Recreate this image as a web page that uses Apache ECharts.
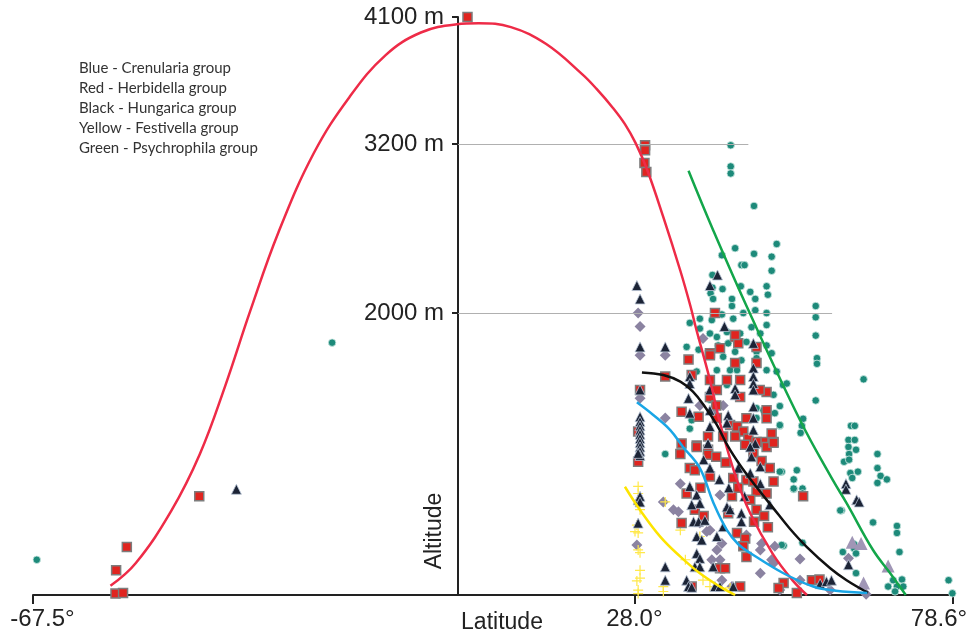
<!DOCTYPE html>
<html>
<head>
<meta charset="utf-8">
<title>Altitude vs latitude</title>
<script src="https://cdn.jsdelivr.net/npm/echarts@6.0.0/dist/echarts.min.js"></script>
<style>
  html, body { margin: 0; padding: 0; background: #fff; }
  #chart1 { width: 971px; height: 635px; }
</style>
</head>
<body>
<div id="chart1"></div>
<script>
// ticks
const latTicks = [-67.5, 28.0, 78.6];
const altTicks = [2000, 3200, 4100];
const guideLines = [[3200, 46.1], [2000, 59.4]]; // [altitude, latitude where the grey line stops]

const groupNames = [
  'Blue - Crenularia group',
  'Red - Herbidella group',
  'Black - Hungarica group',
  'Yellow - Festivella group',
  'Green - Psychrophila group'
];

// fitted curves [latitude, altitude]
const redCurve = [[-55.2,65],[-51.2,225],[-45.5,600],[-41.0,1000],[-37.0,1480],[-33.0,2015],[-28.5,2575],[-22.9,3135],[-17.2,3535],[-11.5,3830],[-5.9,3990],[-0.2,4048],[3.3,4055],[8.4,4028],[14.0,3908],[19.7,3695],[22.0,3590],[24.6,3455],[26.5,3340],[28.2,3205],[30.0,3020],[32.6,2680],[35.3,2300],[36.9,2050],[37.8,1890],[40.0,1525],[41.6,1220],[44.1,840],[46.4,580],[50.0,290],[53.2,100],[55.4,0]];
const greenCurve = [[36.6,3009],[40.5,2589],[46.1,2021],[54.3,1241],[59.5,816],[61.7,652],[65.9,319],[68.6,156],[71.1,0]];
const blackCurve = [[29.2,1579],[32.6,1560],[35.3,1513],[37.3,1442],[39.2,1335],[41.1,1206],[42.9,1052],[44.8,920],[46.8,800],[50.0,620],[52.7,470],[55.4,340],[59.1,190],[61.7,105],[65.1,16]];
const blueCurve = [[28.4,1367],[31.0,1277],[33.7,1170],[35.7,1052],[38.4,900],[40.5,660],[42.7,460],[44.5,360],[46.4,298],[51.6,156],[56.4,60],[60.0,30],[65.0,14]];
const yellowCurve = [[26.5,768],[28.9,603],[32.1,414],[35.3,272],[38.4,154],[41.6,59],[44.0,0]];

// observations [latitude, altitude]
const psychrophila = [[-66.9,250],[-20.0,1790],
  [43.3,3190],[43.3,3040],[43.3,2990],[47.0,2760],[50.6,2490],[44.0,2460],[41.9,2410],[47.0,2420],[49.8,2400],[45.0,2340],[45.5,2340],[49.8,2300],[40.4,2270],[44.9,2190],[49.0,2190],[40.4,2180],[42.0,2170],[40.1,2140],[46.4,2150],[49.2,2130],[40.5,2100],[43.5,2100],[47.2,2100],[43.5,2050],[56.8,2050],
  [56.8,1970],[56.8,1840],[57.0,1680],[57.0,1640],[64.4,1530],[56.8,1380],[51.1,1340],[51.6,1490],[54.8,1250],[54.6,1200],[54.4,1150],[51.1,1200],[62.4,1200],[63.0,1200],[62.0,1100],[63.0,1100],[62.0,1050],[63.2,1030],
  [62.1,1000],[66.6,1000],[61.3,945],[62.1,960],[66.6,900],[63.5,875],[62.3,865],[67.1,845],[68.1,820],[66.6,795],[62.6,830],[53.8,885],[53.3,820],[53.3,750],[51.4,875],[60.9,600],[65.9,515],[69.7,490],[69.7,440],[54.7,370],[51.7,350],[62.9,360],[62.9,330],[61.1,305],[63.2,295],[70.1,305],[63.2,155],[69.1,105],[70.5,110],[68.3,60],[69.7,60],[70.7,60],[69.4,25],[77.9,105],[78.5,12],
  [36.8,1930],[38.4,1960],[40.3,1950],[41.9,1990],[43.7,1960],[45.3,2000],[47.2,2020],[49.0,2000],[49.0,1915],[40.0,1855],[38.4,1890],[41.1,1830],[42.7,1865],[44.8,1855],[46.6,1900],[48.0,1855],[36.3,1760],[38.2,1740],[41.3,1770],[42.9,1785],[44.0,1725],[45.8,1795],[47.4,1725],[49.0,1770],[49.8,1715],[47.4,1680],[45.0,1665],[42.1,1690],[43.2,1595],[44.3,1595],[41.1,1595],[37.9,1585],[49.0,1595],[50.6,1585],[52.2,1500],[50.1,1420],[47.4,1325],[48.5,1310],[50.3,1290],[47.4,1255],[51.1,1205],[40.0,1385],[42.7,1490],[36.8,1180],[37.1,1240],
  [32.9,1000],[51.4,355],[53.3,755],[54.7,755],[54.7,720],[60.7,600],[51.1,875]];

const herbidella = [[-52.6,340],[-54.3,175],[-54.4,10],[-53.2,15],[-41.1,700],[1.5,4100],[29.7,3190],[29.7,3155],[29.6,3065],[29.9,3000],
  [40.8,2000],[44.0,1830],[36.6,1670],[40.0,1715],[41.6,1750],[44.0,1645],[47.4,1645],[44.5,1785],[47.4,1760],[32.9,1550],[37.1,1560],[40.0,1525],[42.7,1525],[44.8,1525],[49.0,1440],[44.8,1405],[40.0,1405],[35.5,1300],[38.2,1265],[41.1,1255],[43.2,1205],[44.3,1195],[45.3,1160],[49.0,1310],[49.8,1145],[50.1,1085],[48.5,1085],[46.1,1110],[44.0,1125],[35.5,1075],[37.9,1060],[28.6,1160],[39.7,1125],[42.1,1125],[47.9,1455],[41.1,1455],[28.9,1455],[44.0,1845],[41.0,1345],[45.8,1253],[49.0,1253],[40.0,1700],
  [28.6,945],[35.3,1000],[37.9,1050],[39.7,1030],[39.7,995],[45.6,1065],[46.9,1005],[49.0,1050],[50.1,1080],[47.4,1085],[36.8,900],[37.6,885],[40.0,840],[43.7,830],[45.8,815],[46.9,805],[50.1,805],[47.4,735],[49.0,720],[36.3,720],[37.6,605],[35.5,510],[42.9,580],[46.4,675],[47.4,605],[44.3,440],[45.6,400],[45.3,345],[45.8,270],[41.6,190],[42.4,190],[37.1,60],[44.8,60],[51.7,85],[50.9,50],
  [48.6,560],[49.2,480],[47.0,520],[43.5,700],[44.5,760],[41.0,980],[42.5,940],[48.2,950],[49.5,900],[38.5,760],[39.0,560],
  [54.8,700],[56.2,105],[57.4,110],[53.8,15]];

const hungarica = [[-35.2,750],
  [28.4,2195],[28.9,2100],[41.2,2270],[40.0,2195],
  [28.9,1760],[32.9,1760],[42.3,1905],[46.9,1785],[46.9,1610],[46.9,1550],[46.9,1500],[46.9,1455],[44.0,1465],[44.0,1420],[36.8,1550],[36.8,1500],[36.6,1395],[36.8,1290],[40.0,1455],[40.0,1310],[40.0,1195],[39.7,1075],[42.9,1275],[42.7,1220],[46.9,1335],[46.9,1255],[46.9,1170],[47.2,1075],[28.9,1455],
  [28.9,1265],[28.9,1230],[28.9,1200],[28.9,1170],[28.9,1140],[28.9,1110],[28.9,1080],[28.9,1050],[28.9,1020],[28.9,990],[28.6,1005],[28.6,675],[28.6,510],[28.9,700],[28.9,660],
  [36.8,770],[37.9,710],[38.4,650],[37.1,640],[37.4,520],[38.2,520],[39.2,530],[37.9,415],[38.7,390],[37.9,295],[38.4,260],[37.6,200],[38.4,200],[36.3,105],[36.6,60],[37.1,55],[32.9,200],[32.9,105],[42.7,625],[43.2,605],[42.1,485],[41.1,415],[40.5,200],[40.8,60],[41.6,60],[43.7,60],[46.4,1050],[46.6,980],[48.0,910],[46.4,865],[48.0,790],[45.0,580],[45.0,520],
  [44.5,900],[43.0,760],[45.5,700],[49.5,640],[40.0,900],[41.5,820],[39.0,960],
  [61.6,790],[61.6,750],[63.3,675],[63.7,660],[62.0,215],[57.5,80],[58.5,95],[59.3,105]];

const crenularia = [[28.6,2000],[28.9,1905],[28.9,1700],[32.9,1700],[28.9,1395],[32.9,1255],[38.9,1820],[38.4,1345],[42.1,1345],[40.5,1300],
  [35.3,790],[41.6,710],[35.0,590],[38.4,510],[40.0,460],[41.9,365],[40.3,250],[28.4,355],[32.6,660],[45.8,425],[48.0,155],[49.8,250],[50.3,345],[48.2,365],[43.5,60],[41.9,105],[34.2,605],
  [54.3,255],[62.0,260],[64.8,5],[39.5,450],[41.1,320],[41.6,250],[48.0,320],[50.1,225],[51.1,35],[54.3,105],[59.1,35]];

const otherGroup = [[64.0,365],[64.4,85],[68.3,205],[62.6,375]];

const festivella = [[28.6,770],[28.6,720],[28.9,605],[28.1,450],[28.6,320],[28.9,175],[28.9,120],[28.6,35],[32.9,660],[35.3,460],[36.1,250],[32.6,60],[32.6,25],[40.0,60],[43.2,50],[38.9,105],[38.4,415],[28.4,495],[28.6,440],[28.9,300],[28.4,100],[28.6,10]];

const plusPath = 'path://M4.4,0H5.6V4.4H10V5.6H5.6V10H4.4V5.6H0V4.4H4.4Z';

const fitLine = (data, color) => ({
  type: 'line',
  data: data,
  smooth: 0.4,
  showSymbol: false,
  silent: true,
  z: 5,
  lineStyle: { color: color, width: 2.5 }
});

const getOptionChart1 = () => {
  return {
    animation: false,
    backgroundColor: '#fff',
    title: {
      text: groupNames.join('\n'),
      left: 79,
      top: 58,
      padding: 0,
      textStyle: {
        fontFamily: 'Lato',
        fontSize: 15,
        fontWeight: 'normal',
        lineHeight: 20,
        color: '#333'
      }
    },
    grid: { left: 33, right: 18, top: 17, bottom: 40, containLabel: false, outerBoundsMode: 'none' },
    xAxis: {
      type: 'value',
      min: -67.5,
      max: 78.6,
      name: 'Latitude',
      nameLocation: 'middle',
      nameGap: 28,
      nameMoveOverlap: false,
      nameTextStyle: {
        fontFamily: 'Liberation Sans',
        fontSize: 23,
        color: '#222',
        padding: [0, 0, 0, 18],
        verticalAlign: 'middle'
      },
      axisLine: { onZero: false, lineStyle: { color: '#222', width: 2 } },
      axisTick: { customValues: latTicks, length: 9, lineStyle: { color: '#222', width: 2 } },
      axisLabel: {
        customValues: latTicks,
        margin: 12,
        fontFamily: 'Liberation Sans',
        fontSize: 24,
        color: '#222',
        formatter: (v) => {
          const t = v.toFixed(1) + '°';
          if (v === latTicks[0]) return '{lo|' + t + '}';
          if (v === latTicks[latTicks.length - 1]) return '{hi|' + t + '}';
          return t;
        },
        rich: {
          lo: { fontFamily: 'Liberation Sans', fontSize: 24, color: '#222', padding: [0, 0, 0, 19] },
          hi: { fontFamily: 'Liberation Sans', fontSize: 24, color: '#222', padding: [0, 28, 0, 0] }
        }
      },
      splitLine: { show: false }
    },
    yAxis: {
      type: 'value',
      min: 0,
      max: 4100,
      offset: -425,
      axisLine: { onZero: false, lineStyle: { color: '#222', width: 2 } },
      axisTick: { customValues: altTicks, length: 6, lineStyle: { color: '#222', width: 2 } },
      axisLabel: {
        customValues: altTicks,
        margin: 14,
        fontFamily: 'Liberation Sans',
        fontSize: 24,
        color: '#222',
        formatter: (v) => v + ' m'
      },
      splitLine: { show: false }
    },
    graphic: [{
      type: 'text',
      x: 435,
      y: 531,
      rotation: Math.PI / 2,
      style: {
        text: 'Altitude',
        font: '23px "Liberation Sans"',
        fill: '#222',
        align: 'center',
        verticalAlign: 'middle'
      }
    }],
    series: [
      {
        name: 'Psychrophila',
        type: 'scatter',
        data: psychrophila,
        symbol: 'circle',
        symbolSize: 7.5,
        itemStyle: { color: '#1d8a7a', borderColor: '#d2ebe6', borderWidth: 0.8, opacity: 1 },
        markLine: {
          silent: true,
          symbol: 'none',
          label: { show: false },
          lineStyle: { color: '#b0b0b0', width: 1, type: 'solid' },
          data: guideLines.map(g => [{ coord: [0, g[0]] }, { coord: [g[1], g[0]] }])
        }
      },
      {
        name: 'Crenularia',
        type: 'scatter',
        data: crenularia,
        symbol: 'diamond',
        symbolSize: 11,
        itemStyle: { color: '#8b83a1', opacity: 1 }
      },
      {
        name: 'Other',
        type: 'scatter',
        data: otherGroup,
        symbol: 'triangle',
        symbolSize: 13,
        itemStyle: { color: '#a096b6', opacity: 1 }
      },
      {
        name: 'Festivella',
        type: 'scatter',
        data: festivella,
        symbol: plusPath,
        symbolSize: 10,
        itemStyle: { color: '#ffe84a', opacity: 1 }
      },
      {
        name: 'Herbidella',
        type: 'scatter',
        data: herbidella,
        symbol: 'rect',
        symbolSize: 9,
        itemStyle: { color: '#e0241f', borderColor: '#7d7d7d', borderWidth: 1.5, opacity: 1 }
      },
      {
        name: 'Hungarica',
        type: 'scatter',
        data: hungarica,
        symbol: 'triangle',
        symbolSize: 10,
        itemStyle: { color: '#1c2436', borderColor: '#b8c4d6', borderWidth: 0.8, opacity: 1 }
      },
      fitLine(redCurve, '#ee2b47'),
      fitLine(greenCurve, '#13a64a'),
      fitLine(blackCurve, '#111111'),
      fitLine(blueCurve, '#1aa6e6'),
      fitLine(yellowCurve, '#fde400')
    ]
  };
};

const initChart = () => {
  const chart1 = echarts.init(document.getElementById('chart1'));
  chart1.setOption(getOptionChart1());
};

window.addEventListener('load', function() {
  initChart();
});
</script>
</body>
</html>
